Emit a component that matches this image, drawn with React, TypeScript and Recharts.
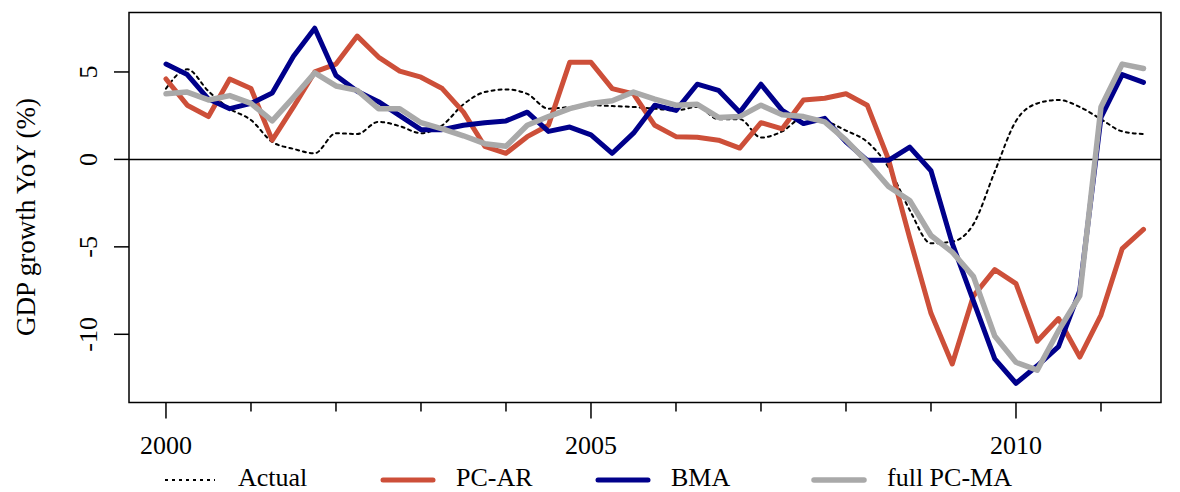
import React from 'react';
import { LineChart, Line, XAxis, YAxis, ReferenceLine, ReferenceArea } from 'recharts';

// Quarterly observation dates (decimal years), 2000Q1 – 2011Q3
const quarters = [
  2000, 2000.25, 2000.5, 2000.75, 2001, 2001.25, 2001.5, 2001.75,
  2002, 2002.25, 2002.5, 2002.75, 2003, 2003.25, 2003.5, 2003.75,
  2004, 2004.25, 2004.5, 2004.75, 2005, 2005.25, 2005.5, 2005.75,
  2006, 2006.25, 2006.5, 2006.75, 2007, 2007.25, 2007.5, 2007.75,
  2008, 2008.25, 2008.5, 2008.75, 2009, 2009.25, 2009.5, 2009.75,
  2010, 2010.25, 2010.5, 2010.75, 2011, 2011.25, 2011.5,
];

// GDP growth YoY (%)
const actual = [
  4.05, 5.15, 3.9, 2.9, 2.25, 1.0, 0.6, 0.35,
  1.5, 1.45, 2.15, 1.9, 1.5, 1.95, 3.15, 3.85,
  4.0, 3.75, 2.9, 3.0, 3.1, 3.05, 3.0, 2.9,
  2.8, 3.0, 2.3, 2.3, 1.25, 1.6, 2.4, 2.2,
  1.65, 1.0, -0.45, -2.9, -4.8, -4.7, -3.7, -0.7,
  2.2, 3.2, 3.4, 3.0, 2.3, 1.6, 1.45,
];

const pcAr = [
  4.6, 3.1, 2.45, 4.6, 4.05, 1.1, 3.0, 5.0,
  5.45, 7.05, 5.85, 5.05, 4.7, 4.05, 2.7, 0.75,
  0.35, 1.3, 1.95, 5.55, 5.55, 4.05, 3.75, 1.95,
  1.3, 1.27, 1.1, 0.65, 2.1, 1.75, 3.4, 3.5,
  3.75, 3.1, 0.0, -4.5, -8.8, -11.7, -7.8, -6.3,
  -7.1, -10.4, -9.1, -11.3, -8.9, -5.1, -4.0,
];

const bma = [
  5.45, 4.85, 3.45, 2.9, 3.2, 3.8, 5.9, 7.5,
  4.8, 3.9, 3.3, 2.5, 1.7, 1.7, 1.95, 2.1,
  2.2, 2.7, 1.6, 1.85, 1.4, 0.35, 1.5, 3.1,
  2.8, 4.3, 3.95, 2.7, 4.3, 2.8, 2.05, 2.35,
  1.0, -0.05, -0.05, 0.7, -0.65, -4.8, -8.1, -11.4,
  -12.8, -11.8, -10.7, -7.5, 2.4, 4.85, 4.4,
];

const fullPcMa = [
  3.75, 3.85, 3.4, 3.65, 3.2, 2.2, 3.55, 4.95,
  4.2, 3.95, 2.9, 2.9, 2.1, 1.75, 1.35, 0.9,
  0.75, 1.95, 2.45, 2.9, 3.2, 3.35, 3.85, 3.45,
  3.1, 3.15, 2.4, 2.45, 3.1, 2.55, 2.45, 2.15,
  1.1, -0.15, -1.55, -2.35, -4.35, -5.3, -6.7, -10.1,
  -11.6, -12.05, -9.8, -7.8, 3.0, 5.45, 5.2,
];

const yearTicks = [2000, 2001, 2002, 2003, 2004, 2005, 2006, 2007, 2008, 2009, 2010, 2011];
const labeledYears = [2000, 2005, 2010];
const valueTicks = [-10, -5, 0, 5];

const xDomain: [number, number] = [1999.565, 2011.706];
const yDomain: [number, number] = [-13.9, 8.4];

const data = quarters.map((t, i) => ({
  t,
  actual: actual[i],
  pcAr: pcAr[i],
  bma: bma[i],
  fullPcMa: fullPcMa[i],
}));

type SeriesDef = {
  key: string;
  name: string;
  color: string;
  width: number;
  dash?: string;
};

const series: SeriesDef[] = [
  { key: 'actual', name: 'Actual', color: '#000000', width: 2, dash: '3 4' },
  { key: 'pcAr', name: 'PC-AR', color: '#CD4F39', width: 5 },
  { key: 'bma', name: 'BMA', color: '#00008B', width: 5 },
  { key: 'fullPcMa', name: 'full PC-MA', color: '#A9A9A9', width: 5.5 },
];

const FONT = '"Liberation Serif", "DejaVu Serif", serif';
const FONT_SIZE = 26;

const XTick = (props: any) => {
  const { x, y, payload } = props;
  const major = labeledYears.includes(payload.value);
  return (
    <g>
      <line x1={x} x2={x} y1={y} y2={y + (major ? 16 : 9)} stroke="#000" strokeWidth={1.5} />
      {major && (
        <text x={x} y={y + 51} textAnchor="middle" fontFamily={FONT} fontSize={FONT_SIZE} fill="#000">
          {payload.value}
        </text>
      )}
    </g>
  );
};

const YTick = (props: any) => {
  const { x, y, payload } = props;
  const bx = x - 32;
  return (
    <g>
      <line x1={x} x2={x - 15} y1={y} y2={y} stroke="#000" strokeWidth={1.5} />
      <text
        x={bx}
        y={y}
        transform={`rotate(-90, ${bx}, ${y})`}
        textAnchor="middle"
        fontFamily={FONT}
        fontSize={FONT_SIZE}
        fill="#000"
      >
        {payload.value}
      </text>
    </g>
  );
};

const YTitle = () => (
  <text
    x={35}
    y={217}
    transform="rotate(-90, 35, 217)"
    textAnchor="middle"
    fontFamily={FONT}
    fontSize={27}
    fill="#000"
  >
    GDP growth YoY (%)
  </text>
);

// Horizontal key below the axis
const legendStarts = [165, 383, 598, 814];

const Key = () => (
  <svg width={1180} height={492} style={{ position: 'absolute', left: 0, top: 0, pointerEvents: 'none' }}>
    {series.map((s, i) => (
      <g key={s.key}>
        <line
          x1={legendStarts[i]}
          x2={legendStarts[i] + 50}
          y1={480}
          y2={480}
          stroke={s.color}
          strokeWidth={s.width}
          strokeDasharray={s.dash}
          strokeLinecap={s.dash ? 'butt' : 'round'}
        />
        <text x={legendStarts[i] + 73} y={486} fontFamily={FONT} fontSize={FONT_SIZE} fill="#000">
          {s.name}
        </text>
      </g>
    ))}
  </svg>
);

export default function App() {
  return (
    <div style={{ position: 'absolute', left: 0, top: 0, width: 1180, height: 492, background: '#fff' }}>
      <LineChart width={1180} height={492} data={data} margin={{ top: 12.5, right: 19, bottom: 0, left: 0 }}>
        <XAxis
          dataKey="t"
          type="number"
          domain={xDomain}
          allowDataOverflow
          ticks={yearTicks}
          interval={0}
          height={89.5}
          axisLine={false}
          tickLine={false}
          tickSize={0}
          tickMargin={0}
          tick={<XTick />}
        />
        <YAxis
          type="number"
          domain={yDomain}
          allowDataOverflow
          ticks={valueTicks}
          interval={0}
          width={129}
          axisLine={false}
          tickLine={false}
          tickSize={0}
          tickMargin={0}
          tick={<YTick />}
          label={<YTitle />}
        />
        <ReferenceLine y={0} stroke="#000" strokeWidth={1.5} />
        {series.map((s) => (
          <Line
            key={s.key}
            dataKey={s.key}
            name={s.name}
            type={s.dash ? 'monotone' : 'linear'}
            stroke={s.color}
            strokeWidth={s.width}
            strokeDasharray={s.dash}
            strokeLinecap="round"
            strokeLinejoin="round"
            dot={false}
            activeDot={false}
            isAnimationActive={false}
          />
        ))}
        <ReferenceArea
          x1={xDomain[0]}
          x2={xDomain[1]}
          y1={yDomain[0]}
          y2={yDomain[1]}
          fill="none"
          fillOpacity={0}
          stroke="#000"
          strokeWidth={1.5}
        />
      </LineChart>
      <Key />
    </div>
  );
}
